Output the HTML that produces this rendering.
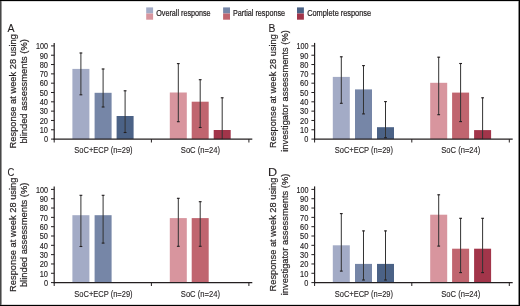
<!DOCTYPE html>
<html><head><meta charset="utf-8"><style>
html,body{margin:0;padding:0;background:#fff;}
.wrap{position:relative;width:520px;height:306px;overflow:hidden;background:#fff;}
svg text{font-family:"Liberation Sans", sans-serif;fill:#231f20;stroke:#231f20;stroke-width:0.25px;}
.frame{position:absolute;left:0;top:0;width:520px;height:306px;box-sizing:border-box;pointer-events:none;}
.bl{position:absolute;left:0;top:0;width:1px;height:306px;background:#474747;}
.bl2{position:absolute;left:1px;top:0;width:1px;height:306px;background:#999;}
.bt{position:absolute;left:0;top:0;width:520px;height:1px;background:#000;}
.bt2{position:absolute;left:1px;top:1px;width:518px;height:1px;background:#dcdcdc;}
.br{position:absolute;left:519px;top:0;width:1px;height:306px;background:#000;}
.br2{position:absolute;left:518px;top:1px;width:1px;height:304px;background:#8a8a8a;}
.bb{position:absolute;left:0;top:305px;width:520px;height:1px;background:#000;}
.bb2{position:absolute;left:2px;top:304px;width:516px;height:1px;background:#d8d8d8;}
</style></head><body><div class="wrap">
<svg width="520" height="306" viewBox="0 0 520 306" style="position:absolute;left:0;top:0;will-change:transform">
<rect x="0" y="0" width="520" height="306" fill="#fff"/>
<rect x="146.2" y="7.4" width="6.9" height="6.1" fill="#a3abc6"/>
<rect x="146.2" y="13.5" width="6.9" height="6.2" fill="#d8959e"/>
<text x="156.2" y="16.3" font-size="8.4" textLength="54.4" lengthAdjust="spacingAndGlyphs" style="stroke-width:0.22px">Overall response</text>
<rect x="223.1" y="7.4" width="6.9" height="6.1" fill="#7686a7"/>
<rect x="223.1" y="13.5" width="6.9" height="6.2" fill="#c0656f"/>
<text x="233" y="16.3" font-size="8.4" textLength="52" lengthAdjust="spacingAndGlyphs" style="stroke-width:0.22px">Partial response</text>
<rect x="297" y="7.4" width="6.9" height="6.1" fill="#4b6286"/>
<rect x="297" y="13.5" width="6.9" height="6.2" fill="#a2354a"/>
<text x="307.2" y="16.3" font-size="8.4" textLength="63.9" lengthAdjust="spacingAndGlyphs" style="stroke-width:0.22px">Complete response</text>
<g transform="translate(0,0)">
<text transform="translate(7.6,32.3) scale(0.92,1)" x="0" y="0" font-size="11.5" style="stroke-width:0.1px">A</text>
<text transform="translate(15.9,148.4) rotate(-90)" font-size="9.8" textLength="114.3" lengthAdjust="spacingAndGlyphs" style="stroke-width:0.2px">Response at week 28 using</text>
<text transform="translate(27.2,143.6) rotate(-90)" font-size="9.8" textLength="104.5" lengthAdjust="spacingAndGlyphs" style="stroke-width:0.2px">blinded assessments (%)</text>
<rect x="72.4" y="68.9" width="17" height="70.2" fill="#a3abc6"/>
<rect x="94.6" y="92.8" width="17" height="46.3" fill="#7686a7"/>
<rect x="116.6" y="116" width="17" height="23.1" fill="#4b6286"/>
<rect x="169.8" y="92.5" width="17" height="46.6" fill="#d8959e"/>
<rect x="191.7" y="101.7" width="17" height="37.4" fill="#c0656f"/>
<rect x="213.7" y="130" width="17" height="9.1" fill="#a2354a"/>
<line x1="80.9" y1="52.7" x2="80.9" y2="94.8" stroke="#333" stroke-width="1"/>
<line x1="79.5" y1="53" x2="82.3" y2="53" stroke="#231f20" stroke-width="1.1"/>
<line x1="79.5" y1="94.8" x2="82.3" y2="94.8" stroke="#231f20" stroke-width="1.1"/>
<line x1="103.1" y1="68.7" x2="103.1" y2="107" stroke="#333" stroke-width="1"/>
<line x1="101.7" y1="69" x2="104.5" y2="69" stroke="#231f20" stroke-width="1.1"/>
<line x1="101.7" y1="107" x2="104.5" y2="107" stroke="#231f20" stroke-width="1.1"/>
<line x1="125.1" y1="90.5" x2="125.1" y2="132.5" stroke="#333" stroke-width="1"/>
<line x1="123.7" y1="90.8" x2="126.5" y2="90.8" stroke="#231f20" stroke-width="1.1"/>
<line x1="123.7" y1="132.5" x2="126.5" y2="132.5" stroke="#231f20" stroke-width="1.1"/>
<line x1="178.3" y1="63.3" x2="178.3" y2="121.7" stroke="#333" stroke-width="1"/>
<line x1="176.9" y1="63.6" x2="179.7" y2="63.6" stroke="#231f20" stroke-width="1.1"/>
<line x1="176.9" y1="121.7" x2="179.7" y2="121.7" stroke="#231f20" stroke-width="1.1"/>
<line x1="200.2" y1="79.4" x2="200.2" y2="127.5" stroke="#333" stroke-width="1"/>
<line x1="198.8" y1="79.7" x2="201.6" y2="79.7" stroke="#231f20" stroke-width="1.1"/>
<line x1="198.8" y1="127.5" x2="201.6" y2="127.5" stroke="#231f20" stroke-width="1.1"/>
<line x1="222.2" y1="97.5" x2="222.2" y2="139.1" stroke="#333" stroke-width="1"/>
<line x1="220.8" y1="97.8" x2="223.6" y2="97.8" stroke="#231f20" stroke-width="1.1"/>
<line x1="54.2" y1="42.9" x2="54.2" y2="139.7" stroke="#231f20" stroke-width="1.2"/>
<line x1="53.6" y1="139.1" x2="252.3" y2="139.1" stroke="#231f20" stroke-width="1.2"/>
<line x1="51" y1="139.1" x2="54.2" y2="139.1" stroke="#231f20" stroke-width="1"/>
<text x="48.0" y="142.4" font-size="8.2" text-anchor="end" textLength="4.1" lengthAdjust="spacingAndGlyphs" style="stroke-width:0.15px">0</text>
<line x1="51" y1="129.78" x2="54.2" y2="129.78" stroke="#231f20" stroke-width="1"/>
<text x="48.0" y="133.08" font-size="8.2" text-anchor="end" textLength="8.3" lengthAdjust="spacingAndGlyphs" style="stroke-width:0.15px">10</text>
<line x1="51" y1="120.46" x2="54.2" y2="120.46" stroke="#231f20" stroke-width="1"/>
<text x="48.0" y="123.76" font-size="8.2" text-anchor="end" textLength="8.3" lengthAdjust="spacingAndGlyphs" style="stroke-width:0.15px">20</text>
<line x1="51" y1="111.14" x2="54.2" y2="111.14" stroke="#231f20" stroke-width="1"/>
<text x="48.0" y="114.44" font-size="8.2" text-anchor="end" textLength="8.3" lengthAdjust="spacingAndGlyphs" style="stroke-width:0.15px">30</text>
<line x1="51" y1="101.82" x2="54.2" y2="101.82" stroke="#231f20" stroke-width="1"/>
<text x="48.0" y="105.12" font-size="8.2" text-anchor="end" textLength="8.3" lengthAdjust="spacingAndGlyphs" style="stroke-width:0.15px">40</text>
<line x1="51" y1="92.5" x2="54.2" y2="92.5" stroke="#231f20" stroke-width="1"/>
<text x="48.0" y="95.8" font-size="8.2" text-anchor="end" textLength="8.3" lengthAdjust="spacingAndGlyphs" style="stroke-width:0.15px">50</text>
<line x1="51" y1="83.18" x2="54.2" y2="83.18" stroke="#231f20" stroke-width="1"/>
<text x="48.0" y="86.48" font-size="8.2" text-anchor="end" textLength="8.3" lengthAdjust="spacingAndGlyphs" style="stroke-width:0.15px">60</text>
<line x1="51" y1="73.86" x2="54.2" y2="73.86" stroke="#231f20" stroke-width="1"/>
<text x="48.0" y="77.16" font-size="8.2" text-anchor="end" textLength="8.3" lengthAdjust="spacingAndGlyphs" style="stroke-width:0.15px">70</text>
<line x1="51" y1="64.54" x2="54.2" y2="64.54" stroke="#231f20" stroke-width="1"/>
<text x="48.0" y="67.84" font-size="8.2" text-anchor="end" textLength="8.3" lengthAdjust="spacingAndGlyphs" style="stroke-width:0.15px">80</text>
<line x1="51" y1="55.22" x2="54.2" y2="55.22" stroke="#231f20" stroke-width="1"/>
<text x="48.0" y="58.52" font-size="8.2" text-anchor="end" textLength="8.3" lengthAdjust="spacingAndGlyphs" style="stroke-width:0.15px">90</text>
<line x1="51" y1="45.9" x2="54.2" y2="45.9" stroke="#231f20" stroke-width="1"/>
<text x="48.0" y="49.2" font-size="8.2" text-anchor="end" textLength="12" lengthAdjust="spacingAndGlyphs" style="stroke-width:0.15px">100</text>
<line x1="54.2" y1="139.1" x2="54.2" y2="142.5" stroke="#231f20" stroke-width="1"/>
<line x1="151.4" y1="139.1" x2="151.4" y2="142.5" stroke="#231f20" stroke-width="1"/>
<line x1="248.9" y1="139.1" x2="248.9" y2="142.5" stroke="#231f20" stroke-width="1"/>
<text x="74.3" y="153.1" font-size="8.5" textLength="58.3" lengthAdjust="spacingAndGlyphs" style="stroke-width:0.12px">SoC+ECP (n=29)</text>
<text x="180.8" y="153.1" font-size="8.5" textLength="39.2" lengthAdjust="spacingAndGlyphs" style="stroke-width:0.12px">SoC (n=24)</text>
</g>
<g transform="translate(260.4,0)">
<text transform="translate(8.1,32.3) scale(0.9,1)" x="0" y="0" font-size="11.5" style="stroke-width:0.1px">B</text>
<text transform="translate(15.9,147.9) rotate(-90)" font-size="9.8" textLength="113.8" lengthAdjust="spacingAndGlyphs" style="stroke-width:0.2px">Response at week 28 using</text>
<text transform="translate(27.2,151.7) rotate(-90)" font-size="9.8" textLength="121.5" lengthAdjust="spacingAndGlyphs" style="stroke-width:0.2px">investigator assessments (%)</text>
<rect x="72.4" y="76.9" width="17" height="62.2" fill="#a3abc6"/>
<rect x="94.6" y="89.4" width="17" height="49.7" fill="#7686a7"/>
<rect x="116.6" y="127.2" width="17" height="11.9" fill="#4b6286"/>
<rect x="169.8" y="82.8" width="17" height="56.3" fill="#d8959e"/>
<rect x="191.7" y="92.6" width="17" height="46.5" fill="#c0656f"/>
<rect x="213.7" y="130.1" width="17" height="9" fill="#a2354a"/>
<line x1="80.9" y1="56.5" x2="80.9" y2="103.3" stroke="#333" stroke-width="1"/>
<line x1="79.5" y1="56.8" x2="82.3" y2="56.8" stroke="#231f20" stroke-width="1.1"/>
<line x1="79.5" y1="103.3" x2="82.3" y2="103.3" stroke="#231f20" stroke-width="1.1"/>
<line x1="103.1" y1="65.3" x2="103.1" y2="113.9" stroke="#333" stroke-width="1"/>
<line x1="101.7" y1="65.6" x2="104.5" y2="65.6" stroke="#231f20" stroke-width="1.1"/>
<line x1="101.7" y1="113.9" x2="104.5" y2="113.9" stroke="#231f20" stroke-width="1.1"/>
<line x1="125.1" y1="101.3" x2="125.1" y2="137.7" stroke="#333" stroke-width="1"/>
<line x1="123.7" y1="101.6" x2="126.5" y2="101.6" stroke="#231f20" stroke-width="1.1"/>
<line x1="123.7" y1="137.7" x2="126.5" y2="137.7" stroke="#231f20" stroke-width="1.1"/>
<line x1="178.3" y1="56.9" x2="178.3" y2="114.7" stroke="#333" stroke-width="1"/>
<line x1="176.9" y1="57.2" x2="179.7" y2="57.2" stroke="#231f20" stroke-width="1.1"/>
<line x1="176.9" y1="114.7" x2="179.7" y2="114.7" stroke="#231f20" stroke-width="1.1"/>
<line x1="200.2" y1="63.2" x2="200.2" y2="121.6" stroke="#333" stroke-width="1"/>
<line x1="198.8" y1="63.5" x2="201.6" y2="63.5" stroke="#231f20" stroke-width="1.1"/>
<line x1="198.8" y1="121.6" x2="201.6" y2="121.6" stroke="#231f20" stroke-width="1.1"/>
<line x1="222.2" y1="97.5" x2="222.2" y2="139.1" stroke="#333" stroke-width="1"/>
<line x1="220.8" y1="97.8" x2="223.6" y2="97.8" stroke="#231f20" stroke-width="1.1"/>
<line x1="54.2" y1="42.9" x2="54.2" y2="139.7" stroke="#231f20" stroke-width="1.2"/>
<line x1="53.6" y1="139.1" x2="252.3" y2="139.1" stroke="#231f20" stroke-width="1.2"/>
<line x1="51" y1="139.1" x2="54.2" y2="139.1" stroke="#231f20" stroke-width="1"/>
<text x="48.0" y="142.4" font-size="8.2" text-anchor="end" textLength="4.1" lengthAdjust="spacingAndGlyphs" style="stroke-width:0.15px">0</text>
<line x1="51" y1="129.78" x2="54.2" y2="129.78" stroke="#231f20" stroke-width="1"/>
<text x="48.0" y="133.08" font-size="8.2" text-anchor="end" textLength="8.3" lengthAdjust="spacingAndGlyphs" style="stroke-width:0.15px">10</text>
<line x1="51" y1="120.46" x2="54.2" y2="120.46" stroke="#231f20" stroke-width="1"/>
<text x="48.0" y="123.76" font-size="8.2" text-anchor="end" textLength="8.3" lengthAdjust="spacingAndGlyphs" style="stroke-width:0.15px">20</text>
<line x1="51" y1="111.14" x2="54.2" y2="111.14" stroke="#231f20" stroke-width="1"/>
<text x="48.0" y="114.44" font-size="8.2" text-anchor="end" textLength="8.3" lengthAdjust="spacingAndGlyphs" style="stroke-width:0.15px">30</text>
<line x1="51" y1="101.82" x2="54.2" y2="101.82" stroke="#231f20" stroke-width="1"/>
<text x="48.0" y="105.12" font-size="8.2" text-anchor="end" textLength="8.3" lengthAdjust="spacingAndGlyphs" style="stroke-width:0.15px">40</text>
<line x1="51" y1="92.5" x2="54.2" y2="92.5" stroke="#231f20" stroke-width="1"/>
<text x="48.0" y="95.8" font-size="8.2" text-anchor="end" textLength="8.3" lengthAdjust="spacingAndGlyphs" style="stroke-width:0.15px">50</text>
<line x1="51" y1="83.18" x2="54.2" y2="83.18" stroke="#231f20" stroke-width="1"/>
<text x="48.0" y="86.48" font-size="8.2" text-anchor="end" textLength="8.3" lengthAdjust="spacingAndGlyphs" style="stroke-width:0.15px">60</text>
<line x1="51" y1="73.86" x2="54.2" y2="73.86" stroke="#231f20" stroke-width="1"/>
<text x="48.0" y="77.16" font-size="8.2" text-anchor="end" textLength="8.3" lengthAdjust="spacingAndGlyphs" style="stroke-width:0.15px">70</text>
<line x1="51" y1="64.54" x2="54.2" y2="64.54" stroke="#231f20" stroke-width="1"/>
<text x="48.0" y="67.84" font-size="8.2" text-anchor="end" textLength="8.3" lengthAdjust="spacingAndGlyphs" style="stroke-width:0.15px">80</text>
<line x1="51" y1="55.22" x2="54.2" y2="55.22" stroke="#231f20" stroke-width="1"/>
<text x="48.0" y="58.52" font-size="8.2" text-anchor="end" textLength="8.3" lengthAdjust="spacingAndGlyphs" style="stroke-width:0.15px">90</text>
<line x1="51" y1="45.9" x2="54.2" y2="45.9" stroke="#231f20" stroke-width="1"/>
<text x="48.0" y="49.2" font-size="8.2" text-anchor="end" textLength="12" lengthAdjust="spacingAndGlyphs" style="stroke-width:0.15px">100</text>
<line x1="54.2" y1="139.1" x2="54.2" y2="142.5" stroke="#231f20" stroke-width="1"/>
<line x1="151.4" y1="139.1" x2="151.4" y2="142.5" stroke="#231f20" stroke-width="1"/>
<line x1="248.9" y1="139.1" x2="248.9" y2="142.5" stroke="#231f20" stroke-width="1"/>
<text x="74.3" y="153.1" font-size="8.5" textLength="58.3" lengthAdjust="spacingAndGlyphs" style="stroke-width:0.12px">SoC+ECP (n=29)</text>
<text x="180.8" y="153.1" font-size="8.5" textLength="39.2" lengthAdjust="spacingAndGlyphs" style="stroke-width:0.12px">SoC (n=24)</text>
</g>
<g transform="translate(0,143.5)">
<text transform="translate(7.5,32.3) scale(0.82,1)" x="0" y="0" font-size="11.5" style="stroke-width:0.1px">C</text>
<text transform="translate(15.9,148.4) rotate(-90)" font-size="9.8" textLength="114.3" lengthAdjust="spacingAndGlyphs" style="stroke-width:0.2px">Response at week 28 using</text>
<text transform="translate(27.2,143.6) rotate(-90)" font-size="9.8" textLength="104.5" lengthAdjust="spacingAndGlyphs" style="stroke-width:0.2px">blinded assessments (%)</text>
<rect x="72.4" y="71.7" width="17" height="67.4" fill="#a3abc6"/>
<rect x="94.6" y="71.7" width="17" height="67.4" fill="#7686a7"/>
<rect x="169.8" y="74.6" width="17" height="64.5" fill="#d8959e"/>
<rect x="191.7" y="74.6" width="17" height="64.5" fill="#c0656f"/>
<line x1="80.9" y1="51.5" x2="80.9" y2="103" stroke="#333" stroke-width="1"/>
<line x1="79.5" y1="51.8" x2="82.3" y2="51.8" stroke="#231f20" stroke-width="1.1"/>
<line x1="79.5" y1="103" x2="82.3" y2="103" stroke="#231f20" stroke-width="1.1"/>
<line x1="103.1" y1="51.5" x2="103.1" y2="99.6" stroke="#333" stroke-width="1"/>
<line x1="101.7" y1="51.8" x2="104.5" y2="51.8" stroke="#231f20" stroke-width="1.1"/>
<line x1="101.7" y1="99.6" x2="104.5" y2="99.6" stroke="#231f20" stroke-width="1.1"/>
<line x1="178.3" y1="54.5" x2="178.3" y2="102.8" stroke="#333" stroke-width="1"/>
<line x1="176.9" y1="54.8" x2="179.7" y2="54.8" stroke="#231f20" stroke-width="1.1"/>
<line x1="176.9" y1="102.8" x2="179.7" y2="102.8" stroke="#231f20" stroke-width="1.1"/>
<line x1="200.2" y1="57.9" x2="200.2" y2="102.8" stroke="#333" stroke-width="1"/>
<line x1="198.8" y1="58.2" x2="201.6" y2="58.2" stroke="#231f20" stroke-width="1.1"/>
<line x1="198.8" y1="102.8" x2="201.6" y2="102.8" stroke="#231f20" stroke-width="1.1"/>
<line x1="54.2" y1="42.9" x2="54.2" y2="139.7" stroke="#231f20" stroke-width="1.2"/>
<line x1="53.6" y1="139.1" x2="252.3" y2="139.1" stroke="#231f20" stroke-width="1.2"/>
<line x1="51" y1="139.1" x2="54.2" y2="139.1" stroke="#231f20" stroke-width="1"/>
<text x="48.0" y="142.4" font-size="8.2" text-anchor="end" textLength="4.1" lengthAdjust="spacingAndGlyphs" style="stroke-width:0.15px">0</text>
<line x1="51" y1="129.78" x2="54.2" y2="129.78" stroke="#231f20" stroke-width="1"/>
<text x="48.0" y="133.08" font-size="8.2" text-anchor="end" textLength="8.3" lengthAdjust="spacingAndGlyphs" style="stroke-width:0.15px">10</text>
<line x1="51" y1="120.46" x2="54.2" y2="120.46" stroke="#231f20" stroke-width="1"/>
<text x="48.0" y="123.76" font-size="8.2" text-anchor="end" textLength="8.3" lengthAdjust="spacingAndGlyphs" style="stroke-width:0.15px">20</text>
<line x1="51" y1="111.14" x2="54.2" y2="111.14" stroke="#231f20" stroke-width="1"/>
<text x="48.0" y="114.44" font-size="8.2" text-anchor="end" textLength="8.3" lengthAdjust="spacingAndGlyphs" style="stroke-width:0.15px">30</text>
<line x1="51" y1="101.82" x2="54.2" y2="101.82" stroke="#231f20" stroke-width="1"/>
<text x="48.0" y="105.12" font-size="8.2" text-anchor="end" textLength="8.3" lengthAdjust="spacingAndGlyphs" style="stroke-width:0.15px">40</text>
<line x1="51" y1="92.5" x2="54.2" y2="92.5" stroke="#231f20" stroke-width="1"/>
<text x="48.0" y="95.8" font-size="8.2" text-anchor="end" textLength="8.3" lengthAdjust="spacingAndGlyphs" style="stroke-width:0.15px">50</text>
<line x1="51" y1="83.18" x2="54.2" y2="83.18" stroke="#231f20" stroke-width="1"/>
<text x="48.0" y="86.48" font-size="8.2" text-anchor="end" textLength="8.3" lengthAdjust="spacingAndGlyphs" style="stroke-width:0.15px">60</text>
<line x1="51" y1="73.86" x2="54.2" y2="73.86" stroke="#231f20" stroke-width="1"/>
<text x="48.0" y="77.16" font-size="8.2" text-anchor="end" textLength="8.3" lengthAdjust="spacingAndGlyphs" style="stroke-width:0.15px">70</text>
<line x1="51" y1="64.54" x2="54.2" y2="64.54" stroke="#231f20" stroke-width="1"/>
<text x="48.0" y="67.84" font-size="8.2" text-anchor="end" textLength="8.3" lengthAdjust="spacingAndGlyphs" style="stroke-width:0.15px">80</text>
<line x1="51" y1="55.22" x2="54.2" y2="55.22" stroke="#231f20" stroke-width="1"/>
<text x="48.0" y="58.52" font-size="8.2" text-anchor="end" textLength="8.3" lengthAdjust="spacingAndGlyphs" style="stroke-width:0.15px">90</text>
<line x1="51" y1="45.9" x2="54.2" y2="45.9" stroke="#231f20" stroke-width="1"/>
<text x="48.0" y="49.2" font-size="8.2" text-anchor="end" textLength="12" lengthAdjust="spacingAndGlyphs" style="stroke-width:0.15px">100</text>
<line x1="54.2" y1="139.1" x2="54.2" y2="142.5" stroke="#231f20" stroke-width="1"/>
<line x1="151.4" y1="139.1" x2="151.4" y2="142.5" stroke="#231f20" stroke-width="1"/>
<line x1="248.9" y1="139.1" x2="248.9" y2="142.5" stroke="#231f20" stroke-width="1"/>
<text x="74.3" y="153.1" font-size="8.5" textLength="58.3" lengthAdjust="spacingAndGlyphs" style="stroke-width:0.12px">SoC+ECP (n=29)</text>
<text x="180.8" y="153.1" font-size="8.5" textLength="39.2" lengthAdjust="spacingAndGlyphs" style="stroke-width:0.12px">SoC (n=24)</text>
</g>
<g transform="translate(260.4,143.5)">
<text transform="translate(7.6,32.3) scale(1.1,1)" x="0" y="0" font-size="11.5" style="stroke-width:0.1px">D</text>
<text transform="translate(15.9,147.9) rotate(-90)" font-size="9.8" textLength="113.8" lengthAdjust="spacingAndGlyphs" style="stroke-width:0.2px">Response at week 28 using</text>
<text transform="translate(27.2,151.7) rotate(-90)" font-size="9.8" textLength="121.5" lengthAdjust="spacingAndGlyphs" style="stroke-width:0.2px">investigator assessments (%)</text>
<rect x="72.4" y="101.8" width="17" height="37.3" fill="#a3abc6"/>
<rect x="94.6" y="120.4" width="17" height="18.7" fill="#7686a7"/>
<rect x="116.6" y="120.4" width="17" height="18.7" fill="#4b6286"/>
<rect x="169.8" y="71.2" width="17" height="67.9" fill="#d8959e"/>
<rect x="191.7" y="105.2" width="17" height="33.9" fill="#c0656f"/>
<rect x="213.7" y="105.2" width="17" height="33.9" fill="#a2354a"/>
<line x1="80.9" y1="69.8" x2="80.9" y2="127.6" stroke="#333" stroke-width="1"/>
<line x1="79.5" y1="70.1" x2="82.3" y2="70.1" stroke="#231f20" stroke-width="1.1"/>
<line x1="79.5" y1="127.6" x2="82.3" y2="127.6" stroke="#231f20" stroke-width="1.1"/>
<line x1="103.1" y1="87.1" x2="103.1" y2="136.5" stroke="#333" stroke-width="1"/>
<line x1="101.7" y1="87.4" x2="104.5" y2="87.4" stroke="#231f20" stroke-width="1.1"/>
<line x1="101.7" y1="136.5" x2="104.5" y2="136.5" stroke="#231f20" stroke-width="1.1"/>
<line x1="125.1" y1="87.1" x2="125.1" y2="136.5" stroke="#333" stroke-width="1"/>
<line x1="123.7" y1="87.4" x2="126.5" y2="87.4" stroke="#231f20" stroke-width="1.1"/>
<line x1="123.7" y1="136.5" x2="126.5" y2="136.5" stroke="#231f20" stroke-width="1.1"/>
<line x1="178.3" y1="51" x2="178.3" y2="102.6" stroke="#333" stroke-width="1"/>
<line x1="176.9" y1="51.3" x2="179.7" y2="51.3" stroke="#231f20" stroke-width="1.1"/>
<line x1="176.9" y1="102.6" x2="179.7" y2="102.6" stroke="#231f20" stroke-width="1.1"/>
<line x1="200.2" y1="74.5" x2="200.2" y2="129.1" stroke="#333" stroke-width="1"/>
<line x1="198.8" y1="74.8" x2="201.6" y2="74.8" stroke="#231f20" stroke-width="1.1"/>
<line x1="198.8" y1="129.1" x2="201.6" y2="129.1" stroke="#231f20" stroke-width="1.1"/>
<line x1="222.2" y1="74.5" x2="222.2" y2="129.1" stroke="#333" stroke-width="1"/>
<line x1="220.8" y1="74.8" x2="223.6" y2="74.8" stroke="#231f20" stroke-width="1.1"/>
<line x1="220.8" y1="129.1" x2="223.6" y2="129.1" stroke="#231f20" stroke-width="1.1"/>
<line x1="54.2" y1="42.9" x2="54.2" y2="139.7" stroke="#231f20" stroke-width="1.2"/>
<line x1="53.6" y1="139.1" x2="252.3" y2="139.1" stroke="#231f20" stroke-width="1.2"/>
<line x1="51" y1="139.1" x2="54.2" y2="139.1" stroke="#231f20" stroke-width="1"/>
<text x="48.0" y="142.4" font-size="8.2" text-anchor="end" textLength="4.1" lengthAdjust="spacingAndGlyphs" style="stroke-width:0.15px">0</text>
<line x1="51" y1="129.78" x2="54.2" y2="129.78" stroke="#231f20" stroke-width="1"/>
<text x="48.0" y="133.08" font-size="8.2" text-anchor="end" textLength="8.3" lengthAdjust="spacingAndGlyphs" style="stroke-width:0.15px">10</text>
<line x1="51" y1="120.46" x2="54.2" y2="120.46" stroke="#231f20" stroke-width="1"/>
<text x="48.0" y="123.76" font-size="8.2" text-anchor="end" textLength="8.3" lengthAdjust="spacingAndGlyphs" style="stroke-width:0.15px">20</text>
<line x1="51" y1="111.14" x2="54.2" y2="111.14" stroke="#231f20" stroke-width="1"/>
<text x="48.0" y="114.44" font-size="8.2" text-anchor="end" textLength="8.3" lengthAdjust="spacingAndGlyphs" style="stroke-width:0.15px">30</text>
<line x1="51" y1="101.82" x2="54.2" y2="101.82" stroke="#231f20" stroke-width="1"/>
<text x="48.0" y="105.12" font-size="8.2" text-anchor="end" textLength="8.3" lengthAdjust="spacingAndGlyphs" style="stroke-width:0.15px">40</text>
<line x1="51" y1="92.5" x2="54.2" y2="92.5" stroke="#231f20" stroke-width="1"/>
<text x="48.0" y="95.8" font-size="8.2" text-anchor="end" textLength="8.3" lengthAdjust="spacingAndGlyphs" style="stroke-width:0.15px">50</text>
<line x1="51" y1="83.18" x2="54.2" y2="83.18" stroke="#231f20" stroke-width="1"/>
<text x="48.0" y="86.48" font-size="8.2" text-anchor="end" textLength="8.3" lengthAdjust="spacingAndGlyphs" style="stroke-width:0.15px">60</text>
<line x1="51" y1="73.86" x2="54.2" y2="73.86" stroke="#231f20" stroke-width="1"/>
<text x="48.0" y="77.16" font-size="8.2" text-anchor="end" textLength="8.3" lengthAdjust="spacingAndGlyphs" style="stroke-width:0.15px">70</text>
<line x1="51" y1="64.54" x2="54.2" y2="64.54" stroke="#231f20" stroke-width="1"/>
<text x="48.0" y="67.84" font-size="8.2" text-anchor="end" textLength="8.3" lengthAdjust="spacingAndGlyphs" style="stroke-width:0.15px">80</text>
<line x1="51" y1="55.22" x2="54.2" y2="55.22" stroke="#231f20" stroke-width="1"/>
<text x="48.0" y="58.52" font-size="8.2" text-anchor="end" textLength="8.3" lengthAdjust="spacingAndGlyphs" style="stroke-width:0.15px">90</text>
<line x1="51" y1="45.9" x2="54.2" y2="45.9" stroke="#231f20" stroke-width="1"/>
<text x="48.0" y="49.2" font-size="8.2" text-anchor="end" textLength="12" lengthAdjust="spacingAndGlyphs" style="stroke-width:0.15px">100</text>
<line x1="54.2" y1="139.1" x2="54.2" y2="142.5" stroke="#231f20" stroke-width="1"/>
<line x1="151.4" y1="139.1" x2="151.4" y2="142.5" stroke="#231f20" stroke-width="1"/>
<line x1="248.9" y1="139.1" x2="248.9" y2="142.5" stroke="#231f20" stroke-width="1"/>
<text x="74.3" y="153.1" font-size="8.5" textLength="58.3" lengthAdjust="spacingAndGlyphs" style="stroke-width:0.12px">SoC+ECP (n=29)</text>
<text x="180.8" y="153.1" font-size="8.5" textLength="39.2" lengthAdjust="spacingAndGlyphs" style="stroke-width:0.12px">SoC (n=24)</text>
</g>
</svg>
<div class="frame"><div class="bt2"></div><div class="bb2"></div><div class="bl2"></div><div class="br2"></div><div class="bl"></div><div class="bt"></div><div class="br"></div><div class="bb"></div></div>
</div></body></html>
